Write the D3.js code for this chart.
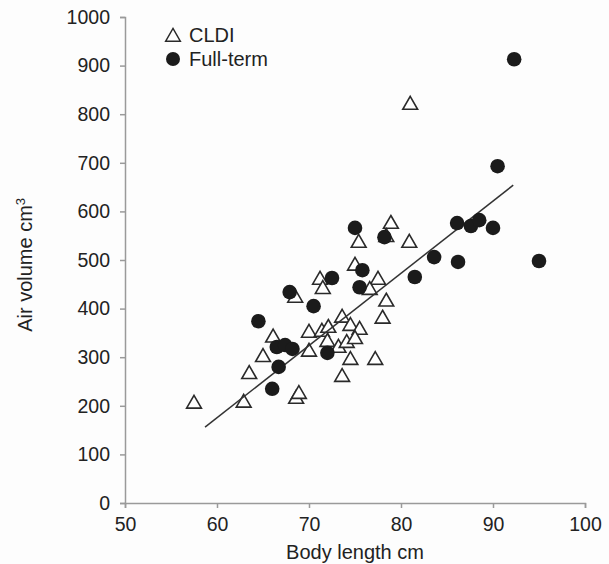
<!DOCTYPE html>
<html>
<head>
<meta charset="utf-8">
<script src="https://cdn.jsdelivr.net/npm/d3@7"></script>
<style>
  html, body { margin: 0; padding: 0; background: #fdfdfd; }
  svg { display: block; font-family: "Liberation Sans", Arial, sans-serif; }
</style>
</head>
<body>
<svg id="chart" width="609" height="564"></svg>
<script>
// CLDI (open triangles): body length cm, air volume cm3
const cldiX = [57.5, 62.9, 63.5, 65.0, 66.1, 68.5, 68.6, 68.9, 70.0, 70.0, 71.2, 71.5, 71.4, 72.1, 72.0, 73.2, 73.6, 74.5, 75.5, 74.1, 75.0, 74.5, 77.2, 73.6, 75.0, 75.4, 77.5, 76.6, 78.4, 78.0, 78.9, 78.4, 80.9, 81.0];
const cldiY = [204, 206, 265, 300, 340, 422, 214, 224, 350, 311, 459, 440, 352, 360, 331, 319, 381, 364, 356, 329, 337, 294, 294, 259, 488, 535, 459, 438, 414, 379, 574, 547, 535, 819];
// Full-term (filled circles)
const fullX = [92.3, 90.5, 86.1, 87.6, 88.5, 90.0, 83.6, 86.2, 95.0, 81.5, 75.0, 78.2, 72.5, 75.8, 67.9, 70.5, 75.5, 64.5, 66.5, 67.4, 68.2, 66.7, 66.0, 72.0];
const fullY = [913, 693, 576, 570, 582, 566, 506, 496, 498, 465, 566, 547, 463, 479, 434, 405, 444, 374, 321, 325, 317, 280, 235, 309];
// Regression line endpoints
const fitX = [58.7, 92.2];
const fitY = [156, 654];

const xTicks = [50, 60, 70, 80, 90, 100];
const yTicks = [0, 100, 200, 300, 400, 500, 600, 700, 800, 900, 1000];
const legendLabels = ["CLDI", "Full-term"];

const svg = d3.select("#chart");
const m = { left: 125, top: 17, right: 24, bottom: 61 };
const W = 609, H = 564;
const x = d3.scaleLinear().domain([50, 100]).range([m.left, W - m.right]);
const y = d3.scaleLinear().domain([0, 1000]).range([H - m.bottom, m.top]);

const axisColor = "#9a9a9a";
const textColor = "#222";

const xAxis = svg.append("g")
  .attr("transform", `translate(0,${y(0)})`)
  .call(d3.axisBottom(x).tickValues(xTicks).tickSize(5).tickPadding(9).tickFormat(d3.format("d")));
const yAxis = svg.append("g")
  .attr("transform", `translate(${x(50)},0)`)
  .call(d3.axisLeft(y).tickValues(yTicks).tickSize(5).tickPadding(10).tickFormat(d3.format("d")));
[xAxis, yAxis].forEach(a => {
  a.select(".domain").attr("stroke", axisColor).attr("stroke-width", 1.5);
  a.selectAll(".tick line").attr("stroke", axisColor).attr("stroke-width", 1.5);
  a.selectAll(".tick text").attr("fill", textColor).style("font-size", "19.5px");
});

// axis titles
svg.append("text")
  .attr("x", x(75)).attr("y", 559)
  .attr("text-anchor", "middle").attr("fill", textColor)
  .style("font-size", "20px")
  .text("Body length cm");
const yt = svg.append("text")
  .attr("transform", `translate(32,${y(490)}) rotate(-90)`)
  .attr("text-anchor", "middle").attr("fill", textColor)
  .style("font-size", "20px");
yt.append("tspan").text("Air volume cm");
yt.append("tspan").attr("dy", -7).style("font-size", "13px").text("3");

const tri = d3.symbol().type(d3.symbolTriangle).size(95);

const cldi = cldiX.map((v, i) => ({ x: v, y: cldiY[i] }));
const full = fullX.map((v, i) => ({ x: v, y: fullY[i] }));

svg.append("g").selectAll("path").data(cldi).enter().append("path")
  .attr("d", tri)
  .attr("transform", d => `translate(${x(d.x)},${y(d.y)})`)
  .attr("fill", "#fff").attr("stroke", "#2a2a2a").attr("stroke-width", 1.6);

svg.append("line")
  .attr("x1", x(fitX[0])).attr("y1", y(fitY[0]))
  .attr("x2", x(fitX[1])).attr("y2", y(fitY[1]))
  .attr("stroke", "#333").attr("stroke-width", 1.5);

svg.append("g").selectAll("circle").data(full).enter().append("circle")
  .attr("cx", d => x(d.x)).attr("cy", d => y(d.y)).attr("r", 7.3)
  .attr("fill", "#1b1b1b");

// legend
const lg = svg.append("g");
lg.append("path").attr("d", tri).attr("transform", "translate(173,37)")
  .attr("fill", "#fff").attr("stroke", "#2a2a2a").attr("stroke-width", 1.4);
lg.append("circle").attr("cx", 173).attr("cy", 59).attr("r", 7).attr("fill", "#1b1b1b");
lg.selectAll("text").data(legendLabels).enter().append("text")
  .attr("x", 189).attr("y", (d, i) => 42 + i * 24)
  .attr("fill", textColor).style("font-size", "20px")
  .text(d => d);
</script>
</body>
</html>
